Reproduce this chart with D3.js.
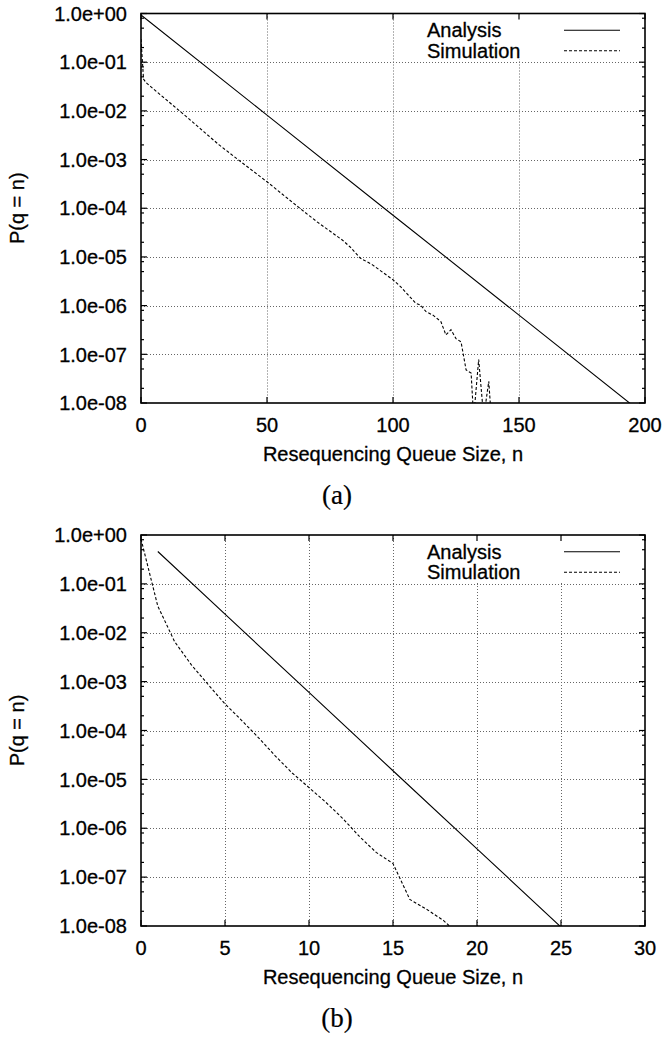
<!DOCTYPE html>
<html><head><meta charset="utf-8">
<script src="https://cdn.jsdelivr.net/npm/d3@7"></script>
<style>
body{margin:0;background:#fff}
svg{display:block}
text{font-family:"Liberation Sans",Arial,Helvetica,sans-serif;fill:#000;stroke:#000;stroke-width:0.3px}
</style>
</head><body>
<svg id="c" width="662" height="1037"></svg>
<script>
// ---------- data ----------
const yTickValues = [1, 1e-1, 1e-2, 1e-3, 1e-4, 1e-5, 1e-6, 1e-7, 1e-8];
const yTickLabels = ["1.0e+00","1.0e-01","1.0e-02","1.0e-03","1.0e-04","1.0e-05","1.0e-06","1.0e-07","1.0e-08"];
const minorMultipliers = [2, 5, 8];
const xTicksA = [0, 50, 100, 150, 200];
const xTicksB = [0, 5, 10, 15, 20, 25, 30];
const seriesNames = ["Analysis", "Simulation"];
const xTitle = "Resequencing Queue Size, n";
const yTitle = "P(q = n)";
const panelLabels = ["(a)", "(b)"];

// panel (a)
const analysisA_n = [0, 50, 100, 150, 200];
const analysisA_p = [0.93, 8.2e-3, 7.2e-5, 6.4e-7, 5.6e-9];
const simA_n = [0, 1, 2, 5, 10, 18, 25, 31, 40, 50, 63, 70, 80, 83, 87, 92, 96, 100, 103, 106, 109, 111, 113, 116, 119, 121, 123, 125, 127, 129, 131, 132, 134, 136, 138, 139];
const simA_p = [0.30, 0.045, 0.038, 0.028, 0.017, 7.6e-3, 3.7e-3, 2.0e-3, 8.7e-4, 3.5e-4, 1.0e-4, 5.2e-5, 2.2e-5, 1.6e-5, 9.5e-6, 6.8e-6, 4.8e-6, 3.4e-6, 2.45e-6, 1.66e-6, 1.12e-6, 1.02e-6, 7.6e-7, 6.3e-7, 4.7e-7, 2.5e-7, 3.2e-7, 2.1e-7, 1.8e-7, 4.8e-8, 4.1e-8, 5e-9, 7.8e-8, 5e-9, 2.8e-8, 5e-9];

// panel (b)
const analysisB_n = [1, 5, 10, 15, 20, 25];
const analysisB_p = [0.46, 2.4e-2, 6.0e-4, 1.5e-5, 3.8e-7, 9.5e-9];
const simB_n = [0, 1, 2, 3, 4, 5, 6, 7, 8, 9, 10, 11, 12, 13, 14, 15, 16, 17, 18, 19];
const simB_p = [0.83, 3.5e-2, 6.6e-3, 2.2e-3, 8.7e-4, 3.5e-4, 1.6e-4, 7.1e-5, 3.0e-5, 1.35e-5, 6.8e-6, 3.4e-6, 1.6e-6, 6.8e-7, 3.2e-7, 1.9e-7, 3.5e-8, 2.2e-8, 1.3e-8, 6.3e-9];

// ---------- drawing ----------
const svg = d3.select("#c");
const zip = (a, b) => a.map((v, i) => [v, b[i]]);

function panel(cfg) {
  const {id, top, bottom, left, right, xDomain, xTicks, analysis, sim, label} = cfg;
  const x = d3.scaleLinear().domain(xDomain).range([left, right]);
  const y = d3.scaleLog().domain([1, 1e-8]).range([top, bottom]);
  const g = svg.append("g");

  g.append("clipPath").attr("id", "clip" + id)
    .append("rect").attr("x", left).attr("y", top).attr("width", right - left).attr("height", bottom - top);

  // grid
  const grid = g.append("g").attr("stroke", "#666").attr("stroke-width", 1).attr("stroke-dasharray", "1,2");
  grid.selectAll(".gx").data(xTicks.slice(1, -1)).enter().append("line")
    .attr("x1", d => Math.round(x(d)) + 0.5).attr("x2", d => Math.round(x(d)) + 0.5)
    .attr("y1", top).attr("y2", bottom);
  grid.selectAll(".gy").data(yTickValues.slice(1, -1)).enter().append("line")
    .attr("y1", d => Math.round(y(d)) + 0.5).attr("y2", d => Math.round(y(d)) + 0.5)
    .attr("x1", left).attr("x2", right);

  // key background (clears grid)
  g.append("rect").attr("x", 410).attr("y", top + 1).attr("width", right - 411).attr("height", 45).attr("fill", "#fff");

  const line = d3.line().x(d => x(d[0])).y(d => y(d[1]));
  const lines = g.append("g").attr("clip-path", `url(#clip${id})`).attr("fill", "none").attr("stroke", "#000");
  lines.append("path").datum(analysis).attr("d", line).attr("stroke-width", 1.1);
  lines.append("path").datum(sim).attr("d", line).attr("stroke-width", 1.1).attr("stroke-dasharray", "3,2");

  // ticks
  const ticks = g.append("g").attr("stroke", "#000").attr("stroke-width", 1.2);
  yTickValues.forEach(v => {
    const yy = y(v);
    ticks.append("line").attr("x1", left).attr("x2", left + 6).attr("y1", yy).attr("y2", yy);
    ticks.append("line").attr("x1", right).attr("x2", right - 6).attr("y1", yy).attr("y2", yy);
  });
  yTickValues.slice(1).forEach(v => {
    minorMultipliers.forEach(m => {
      const yy = y(v * m);
      ticks.append("line").attr("x1", left).attr("x2", left + 3).attr("y1", yy).attr("y2", yy);
      ticks.append("line").attr("x1", right).attr("x2", right - 3).attr("y1", yy).attr("y2", yy);
    });
  });
  xTicks.forEach(v => {
    const xx = x(v);
    ticks.append("line").attr("x1", xx).attr("x2", xx).attr("y1", bottom).attr("y2", bottom - 6);
    ticks.append("line").attr("x1", xx).attr("x2", xx).attr("y1", top).attr("y2", top + 6);
  });

  // border
  g.append("rect").attr("x", left).attr("y", top).attr("width", right - left).attr("height", bottom - top)
    .attr("fill", "none").attr("stroke", "#000").attr("stroke-width", 1.6);

  // tick labels
  g.selectAll(".yl").data(yTickValues).enter().append("text")
    .attr("x", left - 14).attr("y", d => y(d)).attr("dy", "0.36em")
    .attr("text-anchor", "end").attr("font-size", 20)
    .text((d, i) => yTickLabels[i]);
  g.selectAll(".xl").data(xTicks).enter().append("text")
    .attr("x", d => x(d)).attr("y", bottom + 29)
    .attr("text-anchor", "middle").attr("font-size", 20)
    .text(d => d);

  // titles
  g.append("text").attr("x", (left + right) / 2).attr("y", bottom + 58)
    .attr("text-anchor", "middle").attr("font-size", 20).text(xTitle);
  g.append("text").attr("transform", `translate(24,${(top + bottom) / 2}) rotate(-90)`)
    .attr("text-anchor", "middle").attr("font-size", 20).text(yTitle);
  g.append("text").attr("x", 337).attr("y", bottom + 101)
    .attr("text-anchor", "middle").attr("font-size", 27)
    .style("font-family", '"Liberation Serif","Times New Roman",serif').style("stroke-width", "0.2px").text(label);

  // legend
  const keyRows = [top + 16.7, top + 37.2];
  seriesNames.forEach((name, i) => {
    g.append("text").attr("x", 427).attr("y", keyRows[i]).attr("dy", "0.36em")
      .attr("font-size", 20).text(name);
    g.append("line").attr("x1", 564).attr("x2", 620).attr("y1", keyRows[i]).attr("y2", keyRows[i])
      .attr("stroke", "#000").attr("stroke-width", 1.1)
      .attr("stroke-dasharray", i === 0 ? null : "3,2");
  });
}

const L = 141, R = 645;
panel({id: "a", top: 13.5, bottom: 403, left: L, right: R, xDomain: [0, 200], xTicks: xTicksA,
  analysis: zip(analysisA_n, analysisA_p), sim: zip(simA_n, simA_p), label: panelLabels[0]});
panel({id: "b", top: 535, bottom: 926, left: L, right: R, xDomain: [0, 30], xTicks: xTicksB,
  analysis: zip(analysisB_n, analysisB_p), sim: zip(simB_n, simB_p), label: panelLabels[1]});
</script>
</body></html>
